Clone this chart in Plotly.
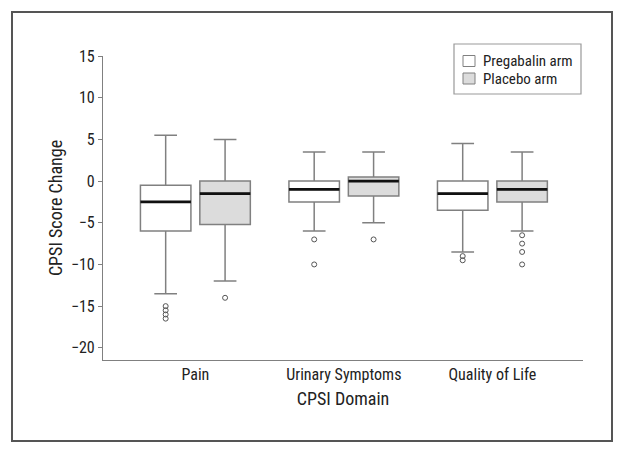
import plotly.graph_objects as go

categories = ["Pain", "Urinary Symptoms", "Quality of Life"]
arms = ["Pregabalin arm", "Placebo arm"]

preg_q1 = [-6.0, -2.5, -3.5]
preg_median = [-2.5, -1.0, -1.5]
preg_q3 = [-0.5, 0.0, 0.0]
preg_low = [-13.5, -6.0, -8.5]
preg_high = [5.5, 3.5, 4.5]
preg_outliers = [[-15, -15.5, -16, -16.5], [-7, -10], [-9, -9.5]]

plac_q1 = [-5.2, -1.8, -2.5]
plac_median = [-1.5, 0.0, -1.0]
plac_q3 = [0.0, 0.5, 0.0]
plac_low = [-12.0, -5.0, -6.0]
plac_high = [5.0, 3.5, 3.5]
plac_outliers = [[-14], [-7], [-6.5, -7.5, -8.5, -10]]

y_ticks = [15, 10, 5, 0, -5, -10, -15, -20]

FONT = "Roboto Condensed, Liberation Sans Narrow, Arial Narrow, sans-serif"
BOX_LINE = "#808080"
FILLS = ["white", "#dcdcdc"]
OFFSET = 0.2
BOX_W = 0.34

# page layout (pixels in the final page)
PLOT_L, PLOT_R, PLOT_T, PLOT_B = 103, 583, 56, 360


def px(x):
    return (x - PLOT_L) / (PLOT_R - PLOT_L)


def py(y):
    return (PLOT_B - y) / (PLOT_B - PLOT_T)


fig = go.Figure()

series = [
    (arms[0], -OFFSET, FILLS[0], preg_q1, preg_median, preg_q3, preg_low, preg_high, preg_outliers),
    (arms[1], OFFSET, FILLS[1], plac_q1, plac_median, plac_q3, plac_low, plac_high, plac_outliers),
]

for name, off, fill, q1, med, q3, lo, hi, outs in series:
    xs = [i + off for i in range(len(categories))]
    fig.add_trace(go.Box(
        name=name, x=xs, q1=q1, median=med, q3=q3,
        lowerfence=lo, upperfence=hi,
        width=BOX_W, whiskerwidth=0.45,
        fillcolor=fill, line=dict(color=BOX_LINE, width=1.5),
        boxpoints=False, hoverinfo="skip", showlegend=False,
    ))
    mx, my = [], []
    for x, m in zip(xs, med):
        mx += [x - BOX_W / 2, x + BOX_W / 2, None]
        my += [m, m, None]
    fig.add_trace(go.Scatter(x=mx, y=my, mode="lines",
                             line=dict(color="#111111", width=2.8),
                             showlegend=False, hoverinfo="skip"))
    ox, oy = [], []
    for x, o in zip(xs, outs):
        ox += [x] * len(o)
        oy += o
    fig.add_trace(go.Scatter(x=ox, y=oy, mode="markers",
                             marker=dict(symbol="circle-open", size=5,
                                         color="#555555", line=dict(width=1)),
                             showlegend=False, hoverinfo="skip"))

# outer frame
fig.add_shape(type="rect", xref="paper", yref="paper",
              x0=px(12), x1=px(612), y0=py(441), y1=py(12),
              line=dict(color="#555555", width=2), fillcolor="rgba(0,0,0,0)",
              layer="below")

# legend (drawn manually)
fig.add_shape(type="rect", xref="paper", yref="paper",
              x0=px(454), x1=px(581), y0=py(94), y1=py(44),
              line=dict(color="#999999", width=1.2), fillcolor="white")
row_y = [61, 78.5]
for name, fill, yc in zip(arms, FILLS, row_y):
    fig.add_shape(type="rect", xref="paper", yref="paper",
                  x0=px(463), x1=px(475), y0=py(yc + 5.5), y1=py(yc - 5.5),
                  line=dict(color="#808080", width=1), fillcolor=fill)
    fig.add_annotation(xref="paper", yref="paper", x=px(481), y=py(yc),
                       text=name, showarrow=False, xanchor="left", yanchor="middle",
                       font=dict(family=FONT, size=15, color="#222222"))

fig.update_layout(
    width=617, height=446,
    margin=dict(l=95, r=42, t=48, b=94),
    paper_bgcolor="white", plot_bgcolor="white",
    font=dict(family=FONT, size=16, color="#222222"),
    boxmode="overlay",
    showlegend=False,
    xaxis=dict(range=[-0.622, 2.61], tickvals=[0, 1, 2], ticktext=categories,
               showgrid=False, zeroline=False, showline=True,
               linecolor="#808080", linewidth=1.2, ticks="",
               tickfont=dict(size=16),
               title=dict(text="CPSI Domain", font=dict(size=18), standoff=9)),
    yaxis=dict(range=[-21.46, 15], tickvals=y_ticks,
               showgrid=False, zeroline=False, showline=True,
               linecolor="#808080", linewidth=1.2, ticks="outside",
               ticklen=4, tickcolor="#808080",
               tickfont=dict(size=16),
               title=dict(text="CPSI Score Change", font=dict(size=18), standoff=3)),
)

fig.write_html("out.html")
